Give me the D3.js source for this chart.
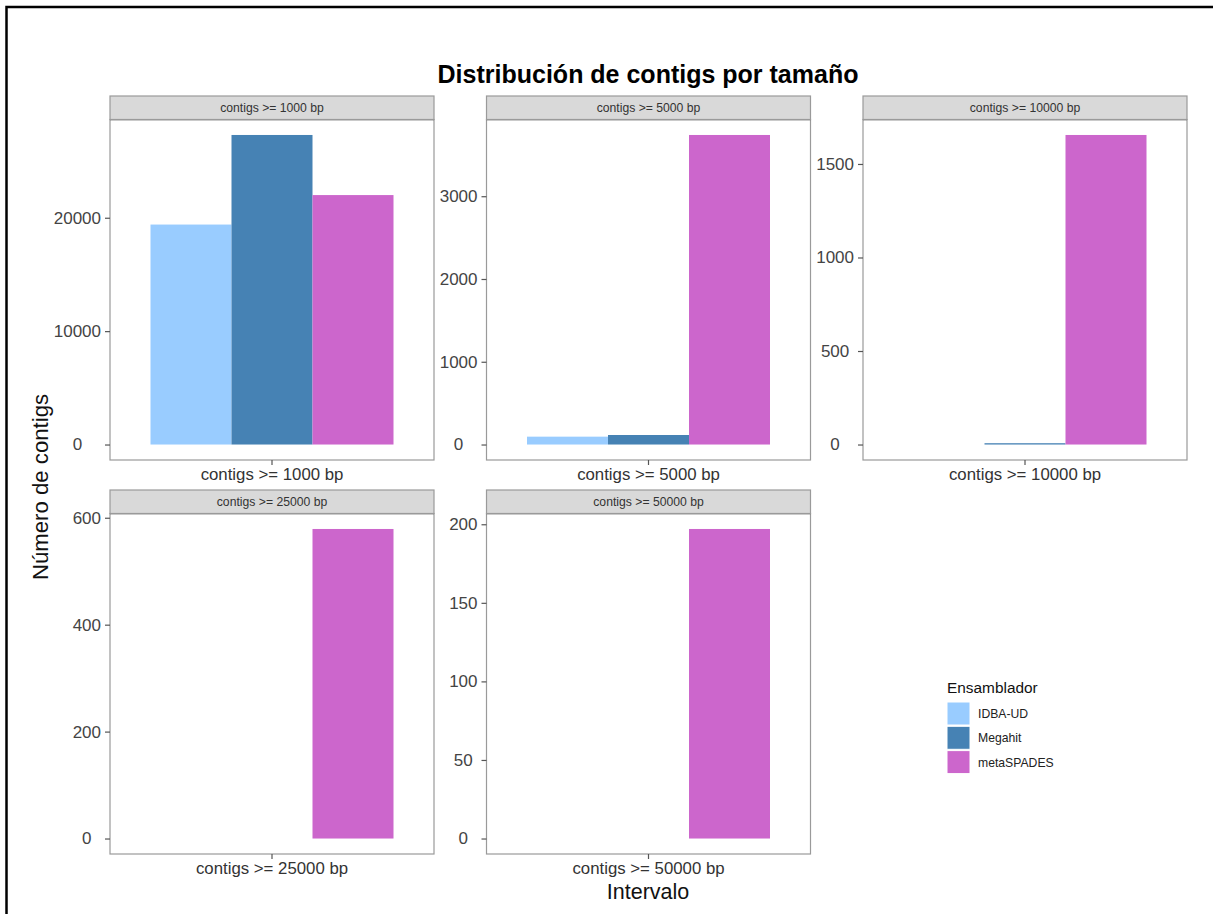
<!DOCTYPE html>
<html>
<head>
<meta charset="utf-8">
<script src="https://cdn.jsdelivr.net/npm/d3@7"></script>
<style>
  html, body { margin: 0; padding: 0; background: #fff; }
  svg { display: block; font-family: "Liberation Sans", Arial, Helvetica, sans-serif; }
</style>
</head>
<body>
<svg id="chart" width="1213" height="914"></svg>
<script>
// Size intervals (one facet each)
const intervals = ["contigs >= 1000 bp", "contigs >= 5000 bp", "contigs >= 10000 bp",
                   "contigs >= 25000 bp", "contigs >= 50000 bp"];
// Assemblers (fill groups)
const assemblers = ["IDBA-UD", "Megahit", "metaSPADES"];
const assemblerColors = ["#99CCFF", "#4682B4", "#CC66CC"];
// Contig counts per interval, one array per assembler
const idbaValues       = [19400, 95, 0, 0, 0];
const megahitValues    = [27300, 115, 7, 0, 0];
const metaspadesValues = [22000, 3740, 1655, 579, 197];
// Y-axis tick labels per facet (free scales)
const yTicks = [
  [0, 10000, 20000],
  [0, 1000, 2000, 3000],
  [0, 500, 1000, 1500],
  [0, 200, 400, 600],
  [0, 50, 100, 150, 200]
];

const title = "Distribución de contigs por tamaño";
const xTitle = "Intervalo";
const yTitle = "Número de contigs";
const legendTitle = "Ensamblador";

const seriesValues = [idbaValues, megahitValues, metaspadesValues];

const svg = d3.select("#chart");

// Outer frame
svg.append("path")
  .attr("d", "M1215,7 H6.5 V916")
  .attr("fill", "none").attr("stroke", "#000").attr("stroke-width", 2.5);

// Facet layout
const colLeft = [110, 486.5, 863];
const panelW = 324;
const stripTop = [96, 490];
const stripH = 23.5;
const panelH = 340.5;

const fill = d3.scaleOrdinal().domain(assemblers).range(assemblerColors);

intervals.forEach((interval, i) => {
  const col = i % 3, row = Math.floor(i / 3);
  const x0 = colLeft[col];
  const sTop = stripTop[row];
  const pTop = sTop + stripH;

  const g = svg.append("g").attr("transform", `translate(${x0},${pTop})`);

  // Strip
  svg.append("rect")
    .attr("x", x0).attr("y", sTop).attr("width", panelW).attr("height", stripH)
    .attr("fill", "#d9d9d9").attr("stroke", "#9a9a9a").attr("stroke-width", 1.2);
  svg.append("text")
    .attr("x", x0 + panelW / 2).attr("y", sTop + stripH / 2 + 4.3)
    .attr("text-anchor", "middle").attr("font-size", 12.2).attr("fill", "#333")
    .text(interval);

  const vals = seriesValues.map(s => s[i]);
  const maxV = d3.max(vals);

  // Scales: one discrete category with dodged bars, y with 5% expansion
  const x = d3.scaleBand().domain([interval]).range([0, panelW])
    .paddingInner(0).paddingOuter(1 / 6);
  const xd = d3.scaleBand().domain(assemblers).range([0, x.bandwidth()]);
  const y = d3.scaleLinear().domain([-0.05 * maxV, 1.05 * maxV]).range([panelH, 0]);

  // Bars
  g.selectAll("rect.bar")
    .data(assemblers.map((a, k) => ({ a, v: seriesValues[k][i] })))
    .join("rect")
    .attr("class", "bar")
    .attr("x", d => x(interval) + xd(d.a))
    .attr("width", xd.bandwidth())
    .attr("y", d => y(d.v))
    .attr("height", d => Math.max(0, y(0) - y(d.v)))
    .attr("fill", d => fill(d.a));

  // Panel border
  g.append("rect")
    .attr("x", 0).attr("y", 0).attr("width", panelW).attr("height", panelH)
    .attr("fill", "none").attr("stroke", "#9a9a9a").attr("stroke-width", 1.2);
  g.append("line")
    .attr("x1", 0).attr("x2", panelW).attr("y1", 0).attr("y2", 0)
    .attr("stroke", "#666").attr("stroke-width", 1.4);

  // Y axis
  const yAxis = g.append("g")
    .call(d3.axisLeft(y).tickValues(yTicks[i]).tickSize(5).tickPadding(4).tickFormat(d3.format("d")));
  yAxis.select(".domain").remove();
  yAxis.selectAll(".tick line").attr("stroke", "#555").attr("stroke-width", 1.2);
  const yLabels = yAxis.selectAll(".tick text")
    .attr("font-size", 17).attr("fill", "#444").attr("font-family", null);
  let maxW = 0;
  yLabels.each(function () { maxW = Math.max(maxW, this.getComputedTextLength()); });
  yLabels.attr("text-anchor", "middle").attr("x", -9 - maxW / 2);

  // X axis
  const xAxis = g.append("g").attr("transform", `translate(0,${panelH})`)
    .call(d3.axisBottom(x).tickSize(5).tickPadding(3));
  xAxis.select(".domain").remove();
  xAxis.selectAll(".tick line").attr("stroke", "#555").attr("stroke-width", 1.2);
  xAxis.selectAll(".tick text")
    .attr("font-size", 16.8).attr("fill", "#333").attr("font-family", null);
});

// Title
svg.append("text")
  .attr("x", 648).attr("y", 83)
  .attr("text-anchor", "middle").attr("font-size", 25).attr("font-weight", "bold")
  .attr("fill", "#000").text(title);

// Axis titles
svg.append("text")
  .attr("x", 648).attr("y", 899)
  .attr("text-anchor", "middle").attr("font-size", 21.5).attr("fill", "#111")
  .text(xTitle);
svg.append("text")
  .attr("transform", "translate(48,487) rotate(-90)")
  .attr("text-anchor", "middle").attr("font-size", 22.2).attr("fill", "#111")
  .text(yTitle);

// Legend
const legend = svg.append("g").attr("transform", "translate(947,0)");
legend.append("text")
  .attr("x", 0).attr("y", 693).attr("font-size", 15.4).attr("fill", "#111")
  .text(legendTitle);
const item = legend.selectAll("g.item").data(assemblers).join("g")
  .attr("class", "item")
  .attr("transform", (d, k) => `translate(0,${702 + k * 24.3})`);
item.append("rect")
  .attr("width", 23).attr("height", 23)
  .attr("fill", d => fill(d)).attr("stroke", "#fff").attr("stroke-width", 1);
item.append("text")
  .attr("x", 31).attr("y", 16).attr("font-size", 12.2).attr("fill", "#222")
  .text(d => d);
</script>
</body>
</html>
